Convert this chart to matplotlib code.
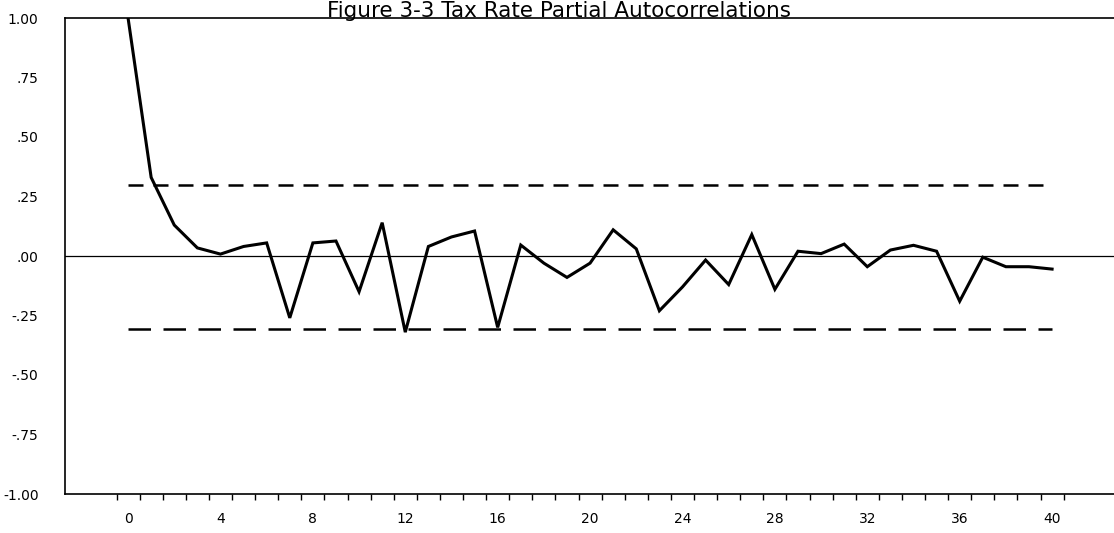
import numpy as np
import matplotlib
matplotlib.use("Agg")
import matplotlib.pyplot as plt

# Partial autocorrelations
lags = list(range(0, 41))
pacf = [1.00, 0.33, 0.13, 0.034, 0.008, 0.04, 0.055, -0.26, 0.055, 0.063,
        -0.15, 0.14, -0.32, 0.04, 0.08, 0.105, -0.30, 0.046, -0.03, -0.09,
        -0.03, 0.11, 0.03, -0.23, -0.13, -0.017, -0.12, 0.09, -0.14, 0.02,
        0.01, 0.05, -0.045, 0.025, 0.045, 0.02, -0.19, -0.005, -0.045, -0.045,
        -0.055]
upper_band = 0.30
lower_band = -0.305

yticks = [1.0, 0.75, 0.5, 0.25, 0.0, -0.25, -0.5, -0.75, -1.0]
ytick_labels = ["1.00", ".75", ".50", ".25", ".00", "-.25", "-.50", "-.75", "-1.00"]
xticks = list(range(0, 41, 4))

fig = plt.figure(figsize=(11.14, 5.33), dpi=100)
ax = fig.add_axes([65 / 1114, 1 - 494 / 533, 1 - 65 / 1114, (494 - 18) / 533])

ax.plot(lags, pacf, color="black", lw=2.2, solid_joinstyle="miter")
ax.plot([lags[0], lags[-1]], [upper_band, upper_band], color="black", lw=1.8,
        dashes=(6, 4))
ax.plot([lags[0], lags[-1]], [lower_band, lower_band], color="black", lw=1.8,
        dashes=(9, 5))
ax.axhline(0, color="black", lw=0.9)

ax.set_xlim(-2.73, 42.68)
ax.set_ylim(-1.0, 1.0)

ax.set_yticks(yticks)
ax.set_yticklabels(ytick_labels)
ax.tick_params(axis="y", length=0, pad=19, labelsize=10)

# labels sit on the lags, tick marks sit between them
ax.set_xticks(xticks)
ax.set_xticks(np.arange(-0.5, 41, 1), minor=True)
ax.tick_params(axis="x", which="major", length=0, pad=13, labelsize=10)
ax.tick_params(axis="x", which="minor", length=4, width=1)

ax.spines["right"].set_visible(False)
for s in ["left", "top", "bottom"]:
    ax.spines[s].set_linewidth(1.2)

fig.text(0.502, 1 - 17 / 533, "Figure 3-3 Tax Rate Partial Autocorrelations",
         ha="center", va="baseline", fontsize=15.5)

fig.savefig("out.png", dpi=100)
